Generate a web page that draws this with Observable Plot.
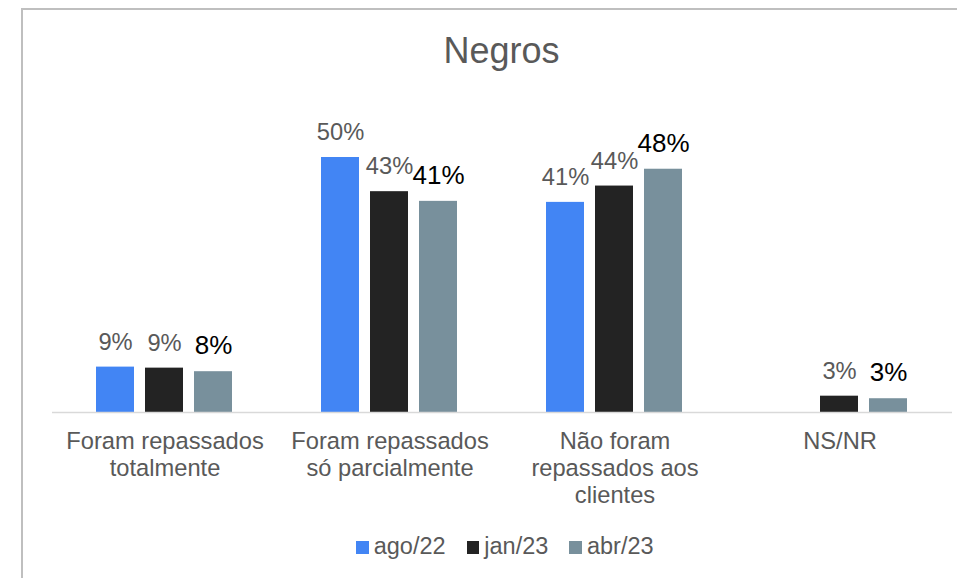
<!DOCTYPE html>
<html><head><meta charset="utf-8">
<script src="https://cdn.jsdelivr.net/npm/d3@7"></script>
<script src="https://cdn.jsdelivr.net/npm/@observablehq/plot@0.6"></script>
<style>
body{margin:0;background:#fff;font-family:Arial,"Liberation Sans",sans-serif;}
#wrap{position:relative;width:957px;height:578px;overflow:hidden;background:#fff;}
#frame{position:absolute;left:21px;top:8px;width:1000px;height:600px;border-left:2px solid #bfbfbf;border-top:2px solid #bfbfbf;}
#title{position:absolute;left:22px;width:959px;top:32.5px;text-align:center;font-size:36px;line-height:36px;color:#595959;}
#chart{position:absolute;left:0;top:90px;}
#legend{position:absolute;left:356px;top:535px;display:flex;align-items:flex-start;font-size:23.5px;line-height:23.5px;color:#595959;white-space:nowrap;}
#legend .item{display:flex;align-items:flex-start;margin-right:21px;}
#legend .sw{width:12.7px;height:12.7px;margin-top:6px;margin-right:5px;}
</style>
</head><body>
<div id="wrap">
  <div id="frame"></div>
  <div id="title">Negros</div>
  <div id="chart"></div>
  <div id="legend"></div>
</div>
<script>
const categories = ["Foram repassados totalmente", "Foram repassados só parcialmente", "Não foram repassados aos clientes", "NS/NR"];
const categoryLines = ["Foram repassados\ntotalmente", "Foram repassados\nsó parcialmente", "Não foram\nrepassados aos\nclientes", "NS/NR"];
const series = ["ago/22", "jan/23", "abr/23"];
const ago22 = [8.9, 50.0, 41.2, null];
const jan23 = [8.7, 43.3, 44.4, 3.2];
const abr23 = [8.0, 41.4, 47.7, 2.7];
const colors = ["#4285F4", "#232323", "#78909C"];

const seriesValues = [ago22, jan23, abr23];
const rows = [];
categories.forEach((c, i) => series.forEach((s, j) => {
  const v = seriesValues[j][i];
  if (v != null) rows.push({category: c, series: s, value: v});
}));

const font = "Arial, 'Liberation Sans', sans-serif";
const chart = Plot.plot({
  width: 957, height: 430,
  marginLeft: 51, marginRight: 4, marginTop: 67, marginBottom: 108,
  style: {fontFamily: font, background: "transparent", overflow: "visible"},
  fx: {domain: categories, paddingInner: 0, paddingOuter: 0, label: null},
  x: {domain: series, paddingInner: 0.22, paddingOuter: 0.865, axis: null},
  y: {domain: [0, 50], axis: null},
  color: {domain: series, range: colors},
  marks: [
    Plot.barY(rows, {fx: "category", x: "series", y: "value", fill: "series"}),
    Plot.ruleY([0], {stroke: "#d9d9d9", strokeWidth: 1.5}),
    Plot.text(rows.filter(d => d.series !== "abr/23"), {
      fx: "category", x: "series", y: "value",
      text: d => Math.round(d.value) + "%",
      lineAnchor: "bottom", dy: -17.5, fontSize: 23.7, fill: "#595959"
    }),
    Plot.text(rows.filter(d => d.series === "abr/23"), {
      fx: "category", x: "series", y: "value",
      text: d => Math.round(d.value) + "%",
      lineAnchor: "bottom", dy: -17.5, fontSize: 26, fill: "#000000"
    }),
    Plot.axisFx({
      anchor: "bottom", tickSize: 0, tickPadding: 17.5, fontSize: 23.7, lineHeight: 1.13,
      tickFormat: d => categoryLines[categories.indexOf(d)], label: null, color: "#595959"
    })
  ]
});
document.getElementById("chart").appendChild(chart);

const legend = document.getElementById("legend");
series.forEach((s, i) => {
  const item = document.createElement("div");
  item.className = "item";
  const sw = document.createElement("div");
  sw.className = "sw";
  sw.style.background = colors[i];
  const t = document.createElement("span");
  t.textContent = s;
  item.appendChild(sw);
  item.appendChild(t);
  legend.appendChild(item);
});
</script>
</body></html>
